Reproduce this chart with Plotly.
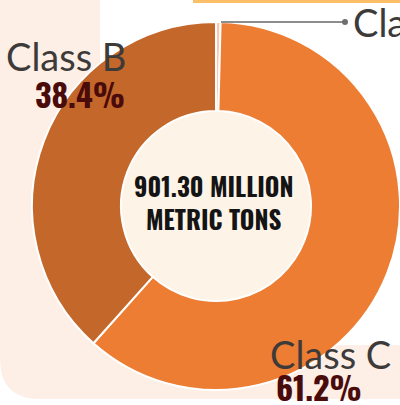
import plotly.graph_objects as go

W, H = 400, 405
categories = ["Class A", "Class C", "Class B"]
values = [0.4, 61.2, 38.4]
colors = ["#f7c6b4", "#ed7d32", "#c4672a"]
pct_labels = ["0.4%", "61.2%", "38.4%"]
center_text = "901.30 MILLION<br>METRIC TONS"

def X(px):
    return px / W

def Y(py):
    return 1 - py / H

cx, cy, R, r_hole = 216, 206, 184, 95

fig = go.Figure()
fig.add_trace(go.Pie(
    labels=categories, values=values, sort=False, direction="clockwise",
    rotation=0, hole=r_hole / R,
    marker=dict(colors=colors, line=dict(color="white", width=2)),
    textinfo="none", hoverinfo="label+percent", showlegend=False,
    domain=dict(x=[X(cx - R), X(cx + R)], y=[Y(cy + R), Y(cy - R)]),
))

pink = "#fdefe6"
rc = 40
shapes = [
    dict(type="path", xref="paper", yref="paper", layer="below", line=dict(width=0), fillcolor=pink,
         path=f"M {X(-5)},{Y(-5)} L {X(405)},{Y(-5)} L {X(405)},{Y(399)} L {X(rc)},{Y(399)} "
              f"Q {X(0)},{Y(399)} {X(0)},{Y(399-rc)} Z"),
    dict(type="rect", xref="paper", yref="paper", layer="below", line=dict(width=0), fillcolor="white",
         x0=X(100), x1=X(410), y0=Y(345), y1=Y(-5)),
    dict(type="rect", xref="paper", yref="paper", layer="below", line=dict(width=0), fillcolor="#fbbf68",
         x0=X(193), x1=X(410), y0=Y(3), y1=Y(-5)),
    dict(type="circle", xref="paper", yref="paper", layer="below", line=dict(width=0), fillcolor="#fdf3e6",
         x0=X(cx - r_hole), x1=X(cx + r_hole), y0=Y(cy + r_hole), y1=Y(cy - r_hole)),
    dict(type="line", xref="paper", yref="paper", line=dict(color="#8c8c8c", width=2),
         x0=X(221), x1=X(345), y0=Y(22), y1=Y(22)),
    dict(type="circle", xref="paper", yref="paper", line=dict(width=0), fillcolor="#6e6e6e",
         x0=X(342), x1=X(348), y0=Y(25), y1=Y(19)),
]

label_font = dict(family="Lato, 'DejaVu Sans', sans-serif", size=38, color="#3d3a3a")
pct_font = dict(family="Oswald, 'Liberation Sans Narrow', 'DejaVu Sans Condensed', 'Roboto Condensed', sans-serif",
                size=32, color="#4a0b0b")

annotations = [
    dict(text=categories[2], x=X(66), y=Y(56), xanchor="center", yanchor="middle", font=label_font),
    dict(text="<b>" + pct_labels[2] + "</b>", x=X(80), y=Y(94), xanchor="center", yanchor="middle", font=pct_font),
    dict(text=categories[1], x=X(330), y=Y(354), xanchor="center", yanchor="middle", font=label_font),
    dict(text="<b>" + pct_labels[1] + "</b>", x=X(319), y=Y(386), xanchor="center", yanchor="middle", font=pct_font),
    dict(text=categories[0], x=X(351), y=Y(22), xanchor="left", yanchor="middle", font=label_font),
    dict(text="<b>" + center_text + "</b>", x=X(cx - 3), y=Y(202), xanchor="center", yanchor="middle",
         font=dict(family="Oswald, 'Liberation Sans Narrow', 'DejaVu Sans Condensed', sans-serif", size=25, color="#141414")),
]
for a in annotations:
    a.update(xref="paper", yref="paper", showarrow=False)

fig.update_layout(width=W, height=H, margin=dict(l=0, r=0, t=0, b=0),
                  paper_bgcolor="white", plot_bgcolor="white",
                  shapes=shapes, annotations=annotations)
fig.write_html("out.html", config={"displayModeBar": False},
               post_script="document.body.style.margin='0';document.body.style.overflow='hidden';")
